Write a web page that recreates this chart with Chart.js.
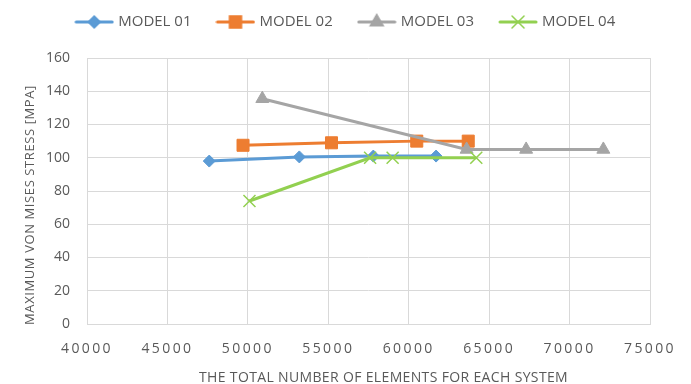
<!DOCTYPE html>
<html>
<head>
<meta charset="utf-8">
<script src="https://cdn.jsdelivr.net/npm/chart.js@4/dist/chart.umd.min.js"></script>
<style>
  html, body { margin: 0; padding: 0; background: #fff; }
  #wrap { width: 691px; height: 384px; }
</style>
</head>
<body>
<div id="wrap"><canvas id="chartContainer"></canvas></div>
<script>
"use strict";

// 1: data
const seriesNames = ['MODEL 01', 'MODEL 02', 'MODEL 03', 'MODEL 04'];
const model01X = [47600, 53200, 57800, 61700];
const model01Y = [98, 100.5, 101, 101];
const model02X = [49700, 55200, 60500, 63700];
const model02Y = [107.5, 109, 110, 110];
const model03X = [50900, 63600, 67300, 72100];
const model03Y = [135.5, 105, 105, 105];
const model04X = [50100, 57600, 59000, 64200];
const model04Y = [74, 100, 100, 100];
const xTicks = [40000, 45000, 50000, 55000, 60000, 65000, 70000, 75000];
const yTicks = [0, 20, 40, 60, 80, 100, 120, 140, 160];

const colors = ['#5B9BD5', '#ED7D31', '#A5A5A5', '#92D050'];
const markers = ['rectRot', 'rect', 'triangle', 'crossRot'];
const radii = [6, 8.5, 7.5, 8.5];
const textColor = '#595959';
const gridColor = '#D9D9D9';

// 2: prepare data for chart
function toPoints(xs, ys) {
  let points = [];
  for (let i = 0; i < xs.length; i++) {
    points.push({ x: xs[i], y: ys[i] });
  }
  return points;
}

// legend icon: short line with the marker in the middle
function legendIcon(color, marker, radius) {
  let c = document.createElement('canvas');
  c.width = 40;
  c.height = 18;
  let ctx = c.getContext('2d');
  ctx.strokeStyle = color;
  ctx.fillStyle = color;
  ctx.lineWidth = 3;
  ctx.lineCap = 'round';
  ctx.beginPath();
  ctx.moveTo(2, 9);
  ctx.lineTo(38, 9);
  ctx.stroke();
  ctx.lineWidth = 1.5;
  Chart.helpers.drawPoint(ctx, { pointStyle: marker, radius: radius, borderWidth: 1.5 }, 20, 9);
  return c;
}

// letter spacing (and a small shift of the title) for one scale
function spaceScale(scale, tickSpacing, titleSpacing, dx, dy) {
  if (scale._spaced) return;
  const ctx = scale.ctx;
  const drawLabels = scale.drawLabels.bind(scale);
  const drawTitle = scale.drawTitle.bind(scale);
  scale.drawLabels = function (area) {
    ctx.save();
    ctx.letterSpacing = tickSpacing;
    drawLabels(area);
    ctx.restore();
  };
  scale.drawTitle = function (area) {
    ctx.save();
    ctx.letterSpacing = titleSpacing;
    ctx.translate(dx, dy);
    drawTitle(area);
    ctx.restore();
  };
  scale._spaced = true;
}

const layoutPlugin = {
  id: 'layoutPlugin',
  beforeInit(chart) {
    const fit = chart.legend.fit;
    chart.legend.fit = function () {
      fit.call(this);
      this.height = 71;
    };
  },
  afterLayout(chart) {
    // centre the legend on the whole picture, not on the plot
    chart.legend.left = 0;
    chart.legend.right = 693;
    spaceScale(chart.scales.x, '2.4px', '0.35px', 15, 2);
    spaceScale(chart.scales.y, '0px', '0.6px', 0, 14);
  }
};

// 3: create and append the chart
function appendChart() {
  const all = [
    toPoints(model01X, model01Y),
    toPoints(model02X, model02Y),
    toPoints(model03X, model03Y),
    toPoints(model04X, model04Y)
  ];
  let datasets = [];
  for (let i = 0; i < all.length; i++) {
    datasets.push({
      label: seriesNames[i],
      data: all[i],
      order: all.length - 1 - i,
      showLine: true,
      borderColor: colors[i],
      backgroundColor: colors[i],
      borderWidth: 3,
      pointStyle: markers[i],
      pointRadius: radii[i],
      pointBorderWidth: markers[i] === 'crossRot' ? 1.5 : 1,
      pointHoverRadius: radii[i]
    });
  }
  const icons = colors.map((c, i) => legendIcon(c, markers[i], radii[i]));

  new Chart(document.getElementById('chartContainer'), {
    type: 'scatter',
    data: { datasets: datasets },
    plugins: [layoutPlugin],
    options: {
      responsive: true,
      maintainAspectRatio: false,
      animation: false,
      layout: { padding: { left: 4, right: 41, top: -13, bottom: 0 } },
      plugins: {
        tooltip: { enabled: false },
        legend: {
          position: 'top',
          labels: {
            usePointStyle: true,
            pointStyleWidth: 33,
            color: textColor,
            font: { family: 'Open Sans', size: 15 },
            padding: 27.5,
            generateLabels: function (chart) {
              return chart.data.datasets.map((ds, i) => ({
                text: ds.label,
                pointStyle: icons[i],
                fontColor: textColor,
                lineWidth: 0,
                datasetIndex: i
              }));
            }
          }
        }
      },
      scales: {
        x: {
          type: 'linear',
          min: 40000,
          max: 75000,
          afterBuildTicks: function (axis) {
            axis.ticks = xTicks.map(v => ({ value: v }));
          },
          afterFit: function (axis) {
            axis.height = 60;
          },
          ticks: {
            color: textColor,
            font: { family: 'Open Sans', size: 14 },
            padding: 17,
            maxRotation: 0,
            callback: v => String(v)
          },
          grid: { color: gridColor, lineWidth: 1, drawTicks: false },
          border: { color: gridColor },
          title: {
            display: true,
            text: 'THE TOTAL NUMBER OF ELEMENTS FOR EACH SYSTEM',
            color: textColor,
            font: { family: 'Open Sans', size: 14 },
            padding: { top: 0, bottom: 0 }
          }
        },
        y: {
          min: 0,
          max: 160,
          afterBuildTicks: function (axis) {
            axis.ticks = yTicks.map(v => ({ value: v }));
          },
          afterFit: function (axis) {
            axis.width = 83;
          },
          ticks: {
            color: textColor,
            font: { family: 'Open Sans', size: 14 },
            padding: 17
          },
          grid: { color: gridColor, lineWidth: 1, drawTicks: false },
          border: { display: false },
          title: {
            display: true,
            text: 'MAXIMUM VON MISES STRESS [MPA]',
            color: textColor,
            font: { family: 'Open Sans', size: 13 },
            padding: { top: 18, bottom: 0 }
          }
        }
      }
    }
  });
}

appendChart();
</script>
</body>
</html>
